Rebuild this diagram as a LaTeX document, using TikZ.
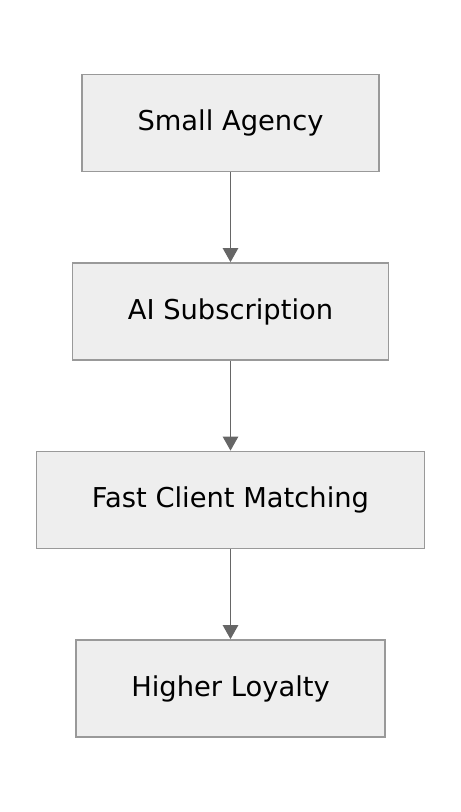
\documentclass[tikz,border=0pt]{standalone}
\usepackage{fontspec}
\setmainfont{DejaVu Sans}
\usepackage{tikz}
\tikzset{>=latex}
\usetikzlibrary{arrows.meta}

\definecolor{boxfill}{HTML}{EEEEEE}
\definecolor{boxline}{HTML}{999999}
\definecolor{arrowline}{HTML}{666666}

\begin{document}
\begin{tikzpicture}[x=0.75pt, y=-0.75pt,
    stepbox/.style={draw=boxline, fill=boxfill, line width=1.3pt,
        minimum height=72.75pt, inner xsep=41.5pt, font=\fontsize{20.5}{24}\selectfont},
    flow/.style={draw=arrowline, line width=1.2pt, -{Triangle[width=11.5pt, length=10.5pt]}}]
   \useasboundingbox (0, 0) rectangle (460, 812);

   \node[stepbox] (agency) at (230.5, 123) {Small Agency};
   \node[stepbox] (sub) at (230.5, 311.5) {AI Subscription};
   \node[stepbox] (match) at (230.5, 500) {Fast Client Matching};
   \node[stepbox] (loyal) at (230.5, 688.5) {Higher Loyalty};

   % arrows between steps
   \foreach \a/\b in {agency/sub, sub/match, match/loyal}{
       \draw[flow] (\a) -- (\b);
   }
\end{tikzpicture}
\end{document}
